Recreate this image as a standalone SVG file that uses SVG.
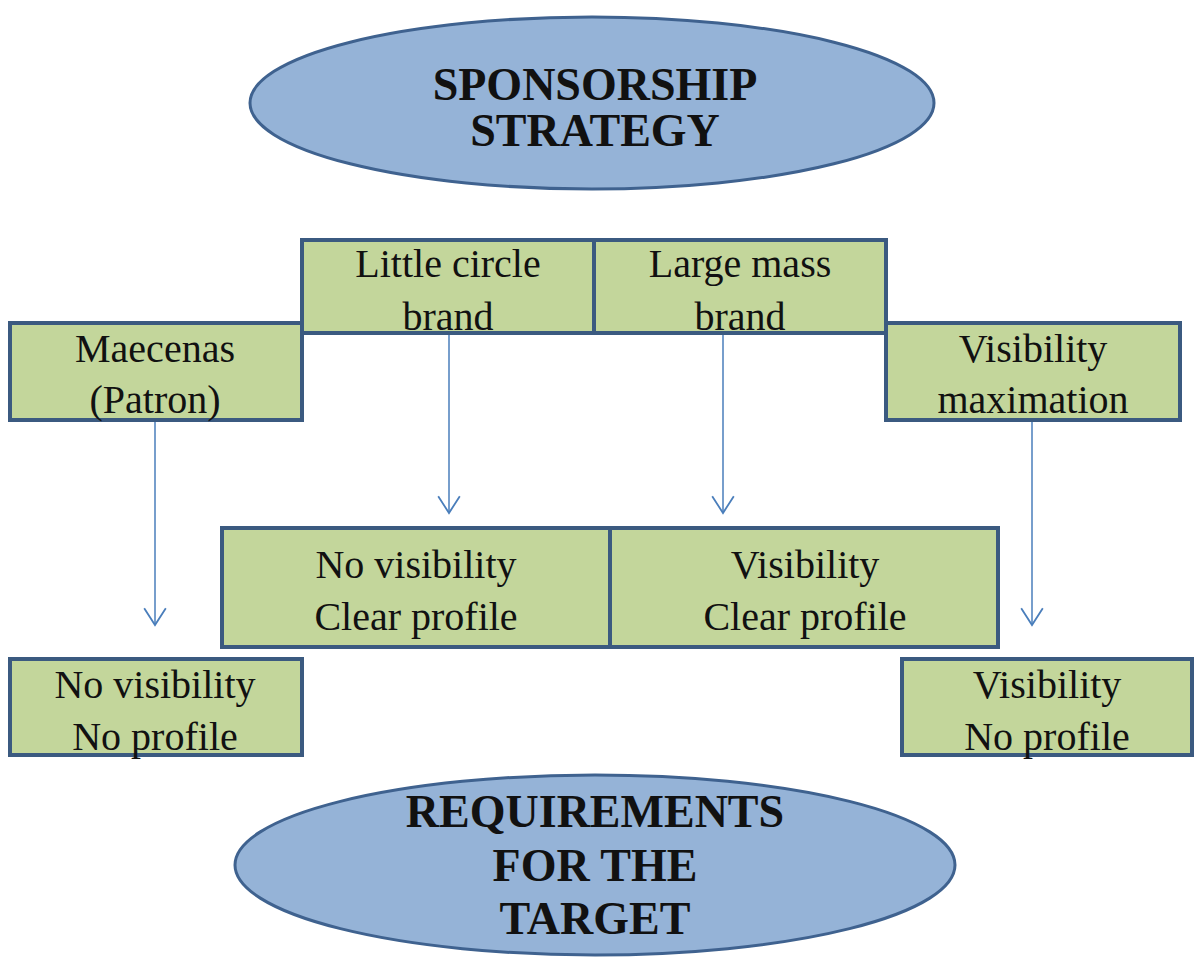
<svg xmlns="http://www.w3.org/2000/svg" width="1196" height="958" viewBox="0 0 1196 958">
<defs>
<style>
.ell{fill:#95b3d7;stroke:#3f628f;stroke-width:3}
.box{fill:#c3d69b;stroke:#3b5a80;stroke-width:4}
.t{font-family:"Liberation Serif",serif;font-size:40px;fill:#111;text-anchor:middle}
.h{font-family:"Liberation Serif",serif;font-size:46px;font-weight:bold;fill:#111;text-anchor:middle}
.c{stroke:#4a7ebb;stroke-width:1.5;fill:none}
</style>
<marker id="arr" markerWidth="20" markerHeight="24" refX="15" refY="10" orient="auto" markerUnits="userSpaceOnUse" viewBox="0 0 16 20">
<path d="M1 1 L15 10 L1 19" fill="none" stroke="#4a7ebb" stroke-width="1.5"/>
</marker>
</defs>
<rect width="1196" height="958" fill="#fff"/>
<g id="sponsorship">
<ellipse class="ell" cx="592" cy="103" rx="342" ry="86"/>
<text class="h" x="595" y="100">SPONSORSHIP</text>
<text class="h" x="595" y="146">STRATEGY</text>
</g>
<g id="connectors">
<line class="c" x1="155" y1="420" x2="155" y2="625" marker-end="url(#arr)"/>
<line class="c" x1="449" y1="333" x2="449" y2="513" marker-end="url(#arr)"/>
<line class="c" x1="723" y1="333" x2="723" y2="513" marker-end="url(#arr)"/>
<line class="c" x1="1032" y1="420" x2="1032" y2="625" marker-end="url(#arr)"/>
</g>
<g id="little">
<rect class="box" x="302" y="240" width="292" height="93"/>
<text class="t" x="448" y="277">Little circle</text>
<text class="t" x="448" y="330">brand</text>
</g>
<g id="large">
<rect class="box" x="594" y="240" width="292" height="93"/>
<text class="t" x="740" y="277">Large mass</text>
<text class="t" x="740" y="330">brand</text>
</g>
<g id="maecenas">
<rect class="box" x="10" y="323" width="292" height="97"/>
<text class="t" x="155" y="362">Maecenas</text>
<text class="t" x="155" y="413">(Patron)</text>
</g>
<g id="vismax">
<rect class="box" x="886" y="323" width="294" height="97"/>
<text class="t" x="1033" y="362">Visibility</text>
<text class="t" x="1033" y="413">maximation</text>
</g>
<g id="novis-clear">
<rect class="box" x="222" y="528" width="388" height="119"/>
<text class="t" x="416" y="578">No visibility</text>
<text class="t" x="416" y="630">Clear profile</text>
</g>
<g id="vis-clear">
<rect class="box" x="610" y="528" width="388" height="119"/>
<text class="t" x="805" y="578">Visibility</text>
<text class="t" x="805" y="630">Clear profile</text>
</g>
<g id="novis-noprof">
<rect class="box" x="10" y="659" width="292" height="96"/>
<text class="t" x="155" y="698">No visibility</text>
<text class="t" x="155" y="750">No profile</text>
</g>
<g id="vis-noprof">
<rect class="box" x="902" y="659" width="290" height="96"/>
<text class="t" x="1047" y="698">Visibility</text>
<text class="t" x="1047" y="750">No profile</text>
</g>
<g id="requirements">
<ellipse class="ell" cx="595" cy="865" rx="360" ry="90"/>
<text class="h" x="595" y="827">REQUIREMENTS</text>
<text class="h" x="595" y="881">FOR THE</text>
<text class="h" x="595" y="934">TARGET</text>
</g>
</svg>
